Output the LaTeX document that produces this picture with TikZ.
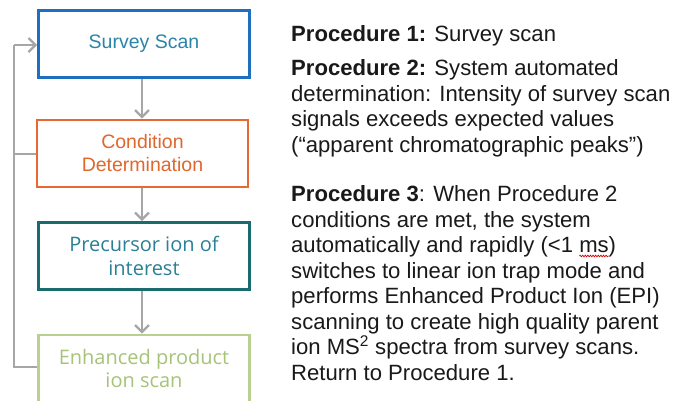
\documentclass[tikz,border=0pt]{standalone}
\usepackage{fontspec}
\setmainfont{Liberation Sans}
\newfontfamily\segfont{Open Sans}
\usetikzlibrary{arrows.meta,decorations.pathmorphing}
\definecolor{arrgray}{HTML}{A6A6A6}
\definecolor{bluebd}{HTML}{1F6FC0}
\definecolor{bluetx}{HTML}{2C84A8}
\definecolor{orangebd}{HTML}{E8692F}
\definecolor{orangetx}{HTML}{E0672D}
\definecolor{tealbd}{HTML}{1A6B6E}
\definecolor{tealtx}{HTML}{2A8096}
\definecolor{greenbd}{HTML}{B9D190}
\definecolor{greentx}{HTML}{A6C378}
\newsavebox\squigbox
\newcommand\squigword[1]{\sbox\squigbox{#1}\tikz[overlay,baseline=0pt,x=1pt,y=1pt]\draw[red!85!black,line width=0.7pt,decorate,decoration={snake,amplitude=0.8pt,segment length=2.6pt}] (0pt,-3.5pt) -- (\the\wd\squigbox,-3.5pt);\usebox\squigbox}
\tikzset{
  stepbox/.style={draw, line width=2.6pt, minimum width=211pt, minimum height=67pt,
    inner sep=0pt, align=center},
  arialbox/.style={font=\fontsize{19.5}{23}\selectfont},
  segbox/.style={font=\segfont\fontsize{20}{23.5}\selectfont},
  flow/.style={draw=arrgray, line width=2.6pt, -{Straight Barb[length=7pt,width=14pt,line width=2.4pt]}},
  line/.style={draw=arrgray, line width=2.6pt},
  proc/.style={anchor=base west, inner sep=0pt, align=left,
    font=\fontsize{22.1}{25.5}\selectfont, text=black!90}
}
\begin{document}
\begin{tikzpicture}[x=1pt,y=-1pt]
\useasboundingbox (0,0) rectangle (673,400);
\clip (0,0) rectangle (673,400);
\fill[white] (0,0) rectangle (673,400);
\node[stepbox, arialbox, draw=bluebd, text=bluetx] (s1) at (144,44) {Survey Scan};
\node[stepbox, arialbox, draw=orangebd, text=orangetx] (s2) at (142.5,153.5) {Condition\\Determination};
\node[stepbox, segbox, draw=tealbd, text=tealtx] (s3) at (144,256) {Precursor ion of\\interest};
\node[stepbox, segbox, draw=greenbd, text=greentx] (s4) at (144,368.5) {Enhanced product\\ion scan};
\draw[flow] (s1.south -| 142,0) -- (s2.north -| 142,0);
\draw[flow] (s2.south -| 142,0) -- (s3.north -| 142,0);
\draw[flow] (s3.south -| 142,0) -- (s4.north -| 142,0);
\coordinate (c1) at (14,45);
\coordinate (c2) at (14,154);
\coordinate (c4) at (14,367);
\draw[line] (s4.west |- c4) -- (c4) -- (c1);
\draw[line] (s2.west |- c2) -- (c2);
\draw[flow] (c1) -- (s1.west |- c1);
\node[proc] (p1) at (291,41) {\textbf{Procedure 1:} Survey scan};
\node[proc] (p2) at (291,152) {\textbf{Procedure 2:} System automated\\determination: Intensity of survey scan\\signals exceeds expected values\\(“apparent chromatographic peaks”)};
\node[proc] (p3) at (291,380) {\textbf{Procedure 3}: When Procedure 2\\conditions are met, the system\\automatically and rapidly (<1 \squigword{ms})\\switches to linear ion trap mode and\\performs Enhanced Product Ion (EPI)\\scanning to create high quality parent\\ion MS\textsuperscript{2} spectra from survey scans.\\Return to Procedure 1.};
\end{tikzpicture}
\end{document}
